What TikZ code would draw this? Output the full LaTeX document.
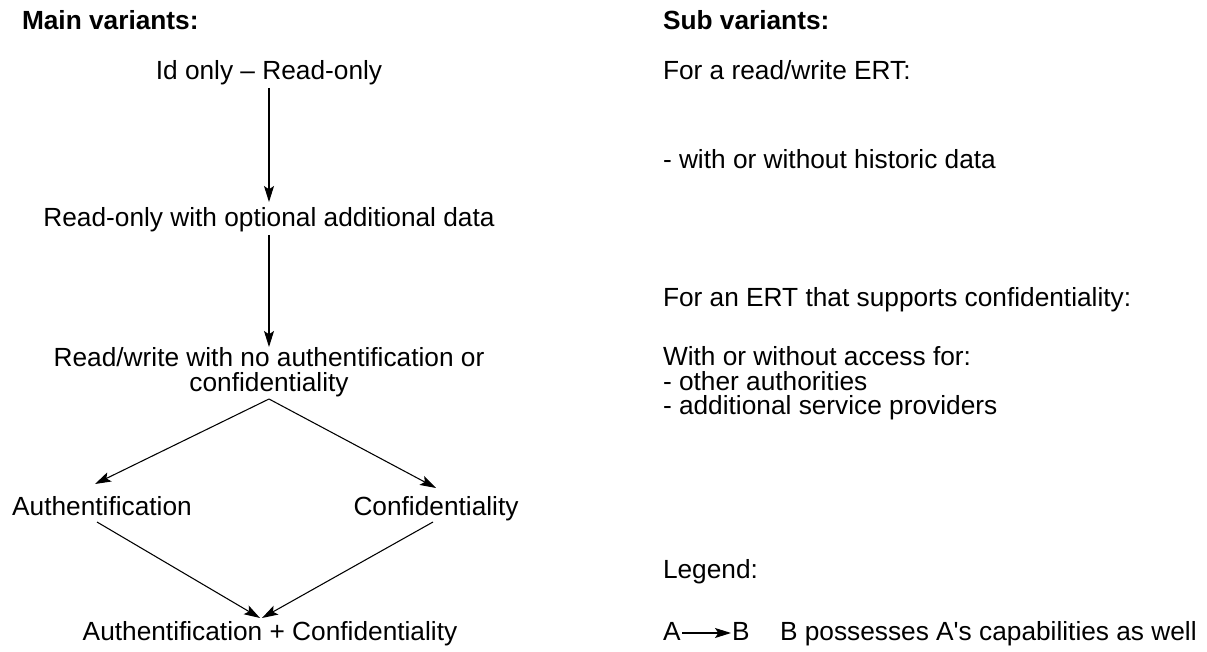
\documentclass[tikz,border=0pt]{standalone}
\usepackage{fontspec}
\setmainfont{Liberation Sans}
\usetikzlibrary{arrows.meta}
\begin{document}
\begin{tikzpicture}[x=0.75pt,y=-0.75pt,
  every node/.style={inner sep=0pt,outer sep=0pt,anchor=base,font=\fontsize{19.7}{17.3}\selectfont},
  lbl/.style={anchor=base west},
  hdr/.style={anchor=base west,font=\fontsize{19.7}{17.3}\selectfont\bfseries},
  conn/.style={line width=0.8pt,-{Stealth[length=12pt,width=7.5pt,inset=2.5pt]}}]
\useasboundingbox (0,0) rectangle (1207,652);
\node[hdr] (h1) at (22,30) {Main variants:};
\node[hdr] (h2) at (663,30) {Sub variants:};

\node (n1) at (269,80) {Id only – Read-only};
\node (n2) at (269,227) {Read-only with optional additional data};
\node[anchor=center,align=center,font=\fontsize{19.7}{18.6}\selectfont] (n3) at (269,372) {Read/write with no authentification or\\confidentiality};
\node (n4) at (102,515) {Authentification};
\node (n5) at (436,515) {Confidentiality};
\node (n6) at (270,640) {Authentification + Confidentiality};

\coordinate (a1s) at (269,88);
\coordinate (a1e) at (269,202);
\coordinate (a2s) at (269,235);
\coordinate (a2e) at (269,347);
\coordinate (a3s) at (269,399);
\coordinate (a3e) at (95,484);
\coordinate (a4e) at (436,488);
\coordinate (a5s) at (97,522);
\coordinate (a5e) at (260,618);
\coordinate (a6s) at (433,522);
\coordinate (a6e) at (262,618);
\draw[conn] (a1s) -- (a1e);
\draw[conn] (a2s) -- (a2e);
\draw[conn] (a3s) -- (a3e);
\draw[conn] (a3s) -- (a4e);
\draw[conn] (a5s) -- (a5e);
\draw[conn] (a6s) -- (a6e);

\node[lbl] (r1) at (663,80) {For a read/write ERT:};
\node[lbl] (r2) at (663,169) {- with or without historic data};
\node[lbl] (r3) at (663,307) {For an ERT that supports confidentiality:};
\node[lbl] (r4) at (663,366) {With or without access for:};
\node[lbl] (r5) at (663,390) {- other authorities};
\node[lbl] (r6) at (663,414) {- additional service providers};
\node[lbl] (r7) at (663,578) {Legend:};
\node[lbl] (la) at (663,640) {A};
\node[lbl] (lb) at (732,640) {B};
\node[lbl] (lt) at (780,640) {B possesses A\textquotesingle s capabilities as well};
\coordinate (ls) at (682,633);
\coordinate (le) at (731,633);
\draw[conn] (ls) -- (le);
\end{tikzpicture}
\end{document}
